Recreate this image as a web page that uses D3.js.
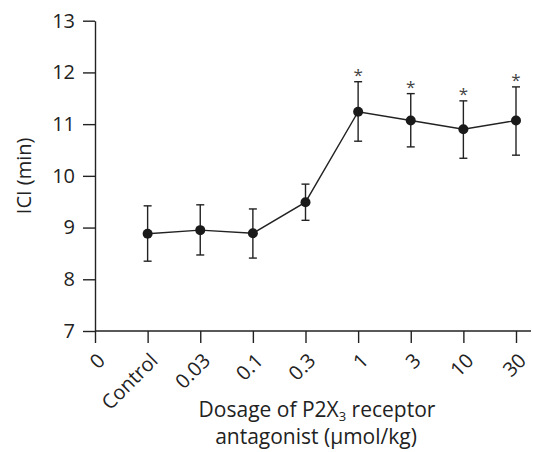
<!DOCTYPE html>
<html>
<head>
  <meta charset="utf-8">
  <script src="https://cdnjs.cloudflare.com/ajax/libs/d3/7.8.5/d3.min.js"></script>
  <style>
    body { margin: 0; background: #fff; }
    svg text { font-family: "Open Sans", "Noto Sans", sans-serif; fill: #222; }
  </style>
</head>
<body>
  <script>
    // x categories (the "0" slot is only an axis position, no data there)
    const categories = ["0", "Control", "0.03", "0.1", "0.3", "1", "3", "10", "30"];
    const doses = ["Control", "0.03", "0.1", "0.3", "1", "3", "10", "30"];
    const means = [8.88, 8.95, 8.89, 9.49, 11.24, 11.07, 10.90, 11.07];
    const upper = [9.42, 9.44, 9.36, 9.84, 11.82, 11.59, 11.45, 11.72];
    const lower = [8.35, 8.47, 8.41, 9.14, 10.67, 10.56, 10.34, 10.40];
    const significant = [false, false, false, false, true, true, true, true];
    const yTicks = [7, 8, 9, 10, 11, 12, 13];

    const w = 533, h = 452;
    const mLeft = 95, mRight = 516, mTop = 20.7, mBottom = 331;
    const fs = "20px";

    const data = doses.map((d, i) => ({
      dose: d, mean: means[i], hi: upper[i], lo: lower[i], sig: significant[i]
    }));

    const x = d3.scalePoint().domain(categories).range([mLeft, mRight]);
    const y = d3.scaleLinear().domain([7, 13]).range([mBottom, mTop]);

    const svg = d3.select("body").append("svg")
      .attr("width", w)
      .attr("height", h);

    // y axis
    const yAxis = svg.append("g")
      .attr("transform", "translate(" + mLeft + ",0)")
      .call(d3.axisLeft(y).tickValues(yTicks).tickFormat(d3.format("d"))
        .tickSize(12).tickSizeOuter(0).tickPadding(8));
    yAxis.selectAll("path, line").attr("stroke", "#222").attr("stroke-width", 1.4);
    yAxis.selectAll("text").style("font-size", fs);

    // x axis
    const xAxis = svg.append("g")
      .attr("transform", "translate(0," + mBottom + ")")
      .call(d3.axisBottom(x).tickSize(12).tickSizeOuter(0));
    xAxis.select(".domain").remove();
    xAxis.append("line")
      .attr("x1", mLeft).attr("x2", 531)
      .attr("stroke", "#222").attr("stroke-width", 1.4);
    xAxis.selectAll("line").attr("stroke", "#222").attr("stroke-width", 1.4);
    xAxis.selectAll("text")
      .style("font-size", fs)
      .attr("text-anchor", "end")
      .attr("y", 0)
      .attr("dy", "0.35em")
      .attr("transform", "translate(6,26) rotate(-45)");

    // error bars
    const eb = svg.append("g").attr("stroke", "#222").attr("stroke-width", 1.4);
    data.forEach(d => {
      const cx = x(d.dose);
      eb.append("line").attr("x1", cx).attr("x2", cx).attr("y1", y(d.hi)).attr("y2", y(d.lo));
      eb.append("line").attr("x1", cx - 4).attr("x2", cx + 4).attr("y1", y(d.hi)).attr("y2", y(d.hi));
      eb.append("line").attr("x1", cx - 4).attr("x2", cx + 4).attr("y1", y(d.lo)).attr("y2", y(d.lo));
    });

    // line
    svg.append("path")
      .datum(data)
      .attr("fill", "none")
      .attr("stroke", "#222")
      .attr("stroke-width", 1.4)
      .attr("d", d3.line().x(d => x(d.dose)).y(d => y(d.mean)));

    // points
    svg.selectAll("circle")
      .data(data)
      .enter()
      .append("circle")
      .attr("cx", d => x(d.dose))
      .attr("cy", d => y(d.mean))
      .attr("r", 5)
      .attr("fill", "#1a1a1a");

    // significance stars
    svg.selectAll(".star")
      .data(data.filter(d => d.sig))
      .enter()
      .append("text")
      .attr("class", "star")
      .attr("x", d => x(d.dose))
      .attr("y", d => y(d.hi) - 1)
      .attr("text-anchor", "middle")
      .style("font-size", "17px")
      .style("fill", "#444")
      .text("*");

    // axis titles
    svg.append("text")
      .attr("transform", "translate(31," + ((mTop + mBottom) / 2) + ") rotate(-90)")
      .attr("text-anchor", "middle")
      .style("font-size", fs)
      .text("ICI (min)");

    const t1 = svg.append("text")
      .attr("x", 317).attr("y", 417)
      .attr("text-anchor", "middle")
      .style("font-size", "21px");
    t1.append("tspan").text("Dosage of P2X");
    t1.append("tspan").attr("dy", 4).style("font-size", "13px").text("3");
    t1.append("tspan").attr("dy", -4).text(" receptor");

    svg.append("text")
      .attr("x", 316).attr("y", 444)
      .attr("text-anchor", "middle")
      .style("font-size", "21px")
      .text("antagonist (\u00b5mol/kg)");
  </script>
</body>
</html>
